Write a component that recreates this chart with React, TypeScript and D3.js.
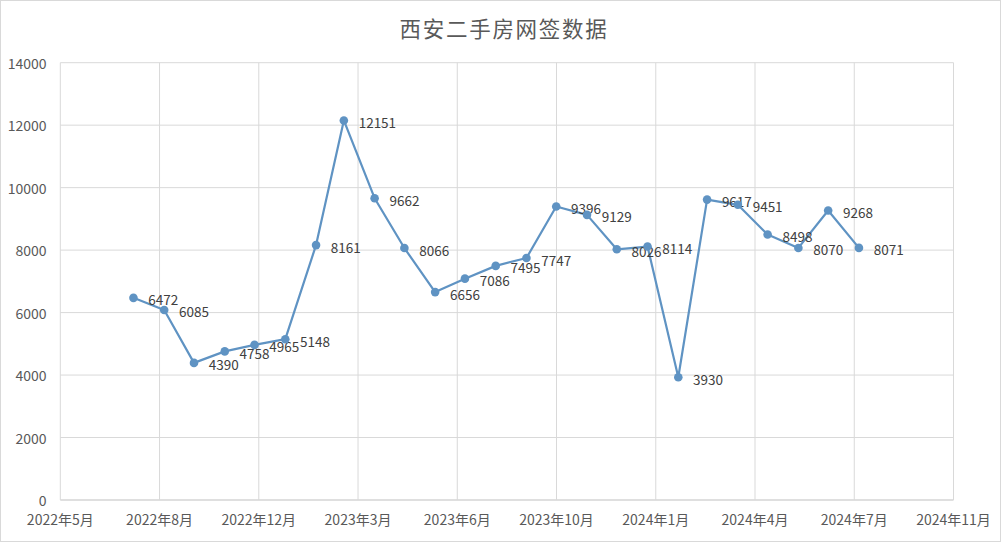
import React from "react";
import { scaleTime, scaleLinear, line, timeFormat, range } from "d3";

const W = 1001;
const H = 542;

// month-end dates of each observation
const months = [
  "2022-07-31", "2022-08-31", "2022-09-30", "2022-10-31", "2022-11-30", "2022-12-31",
  "2023-01-31", "2023-02-28", "2023-03-31", "2023-04-30", "2023-05-31", "2023-06-30",
  "2023-07-31", "2023-08-31", "2023-09-30", "2023-10-31", "2023-11-30", "2023-12-31",
  "2024-01-31", "2024-02-29", "2024-03-31", "2024-04-30", "2024-05-31", "2024-06-30",
  "2024-07-31",
];
const deals = [
  6472, 6085, 4390, 4758, 4965, 5148,
  8161, 12151, 9662, 8066, 6656, 7086,
  7495, 7747, 9396, 9129, 8026, 8114,
  3930, 9617, 9451, 8498, 8070, 9268,
  8071,
];
const yTicks = [0, 2000, 4000, 6000, 8000, 10000, 12000, 14000];
const title = "西安二手房网签数据";

const parse = (s: string) => {
  const [y, m, d] = s.split("-").map(Number);
  return new Date(y, m - 1, d);
};
const xStart = new Date(2022, 4, 19);
const xEnd = new Date(2024, 10, 4);
const DAY = 86400000;
// major unit: 100 days
const xTicks = range(0, 10).map((i) => new Date(xStart.getTime() + i * 100 * DAY));

const left = 60.3;
const right = 953.5;
const top = 62.7;
const bottom = 500;

const x = scaleTime().domain([xStart, xEnd]).range([left, right]);
const y = scaleLinear().domain([0, 14000]).range([bottom, top]);
const fmt = timeFormat("%Y年%-m月");

const points = months.map((m, i) => ({ date: parse(m), value: deals[i] }));
const path = line<{ date: Date; value: number }>()
  .x((d) => x(d.date) + 0.7)
  .y((d) => y(d.value))(points);

const font = "'Noto Sans CJK SC', 'Noto Sans', sans-serif";

export default function App() {
  return (
    <svg
      width={W}
      height={H}
      style={{ position: "absolute", left: 0, top: 0, background: "#fff" }}
      fontFamily={font}
    >
      <rect x={0.5} y={0.5} width={W - 1} height={H - 1} fill="#fff" stroke="#d9d9d9" />
      <text x={504} y={27} textAnchor="middle" dominantBaseline="central" fontSize={21.5} fill="#595959" letterSpacing={1.7}>
        {title}
      </text>
      {yTicks.map((t) => (
        <g key={t}>
          <line x1={left} x2={right} y1={y(t)} y2={y(t)} stroke={t === 0 ? "#bfbfbf" : "#d9d9d9"} />
          <text x={46.5} y={y(t)} textAnchor="end" dominantBaseline="central" fontSize={14} fill="#595959">
            {t}
          </text>
        </g>
      ))}
      {xTicks.map((t, i) => (
        <g key={i}>
          <line x1={x(t)} x2={x(t)} y1={top} y2={bottom} stroke="#d9d9d9" />
          <text x={x(t)} y={519} textAnchor="middle" dominantBaseline="central" fontSize={14} fill="#595959">
            {fmt(t)}
          </text>
        </g>
      ))}
      <path d={path ?? ""} fill="none" stroke="#5f93c3" strokeWidth={2.2} strokeLinejoin="round" />
      {points.map((p, i) => (
        <g key={i}>
          <circle cx={x(p.date) + 0.7} cy={y(p.value)} r={4.3} fill="#5f93c3" />
          <text x={x(p.date) + 15.5} y={y(p.value) + 1.5} dominantBaseline="central" fontSize={13.5} fill="#404040">
            {p.value}
          </text>
        </g>
      ))}
    </svg>
  );
}
